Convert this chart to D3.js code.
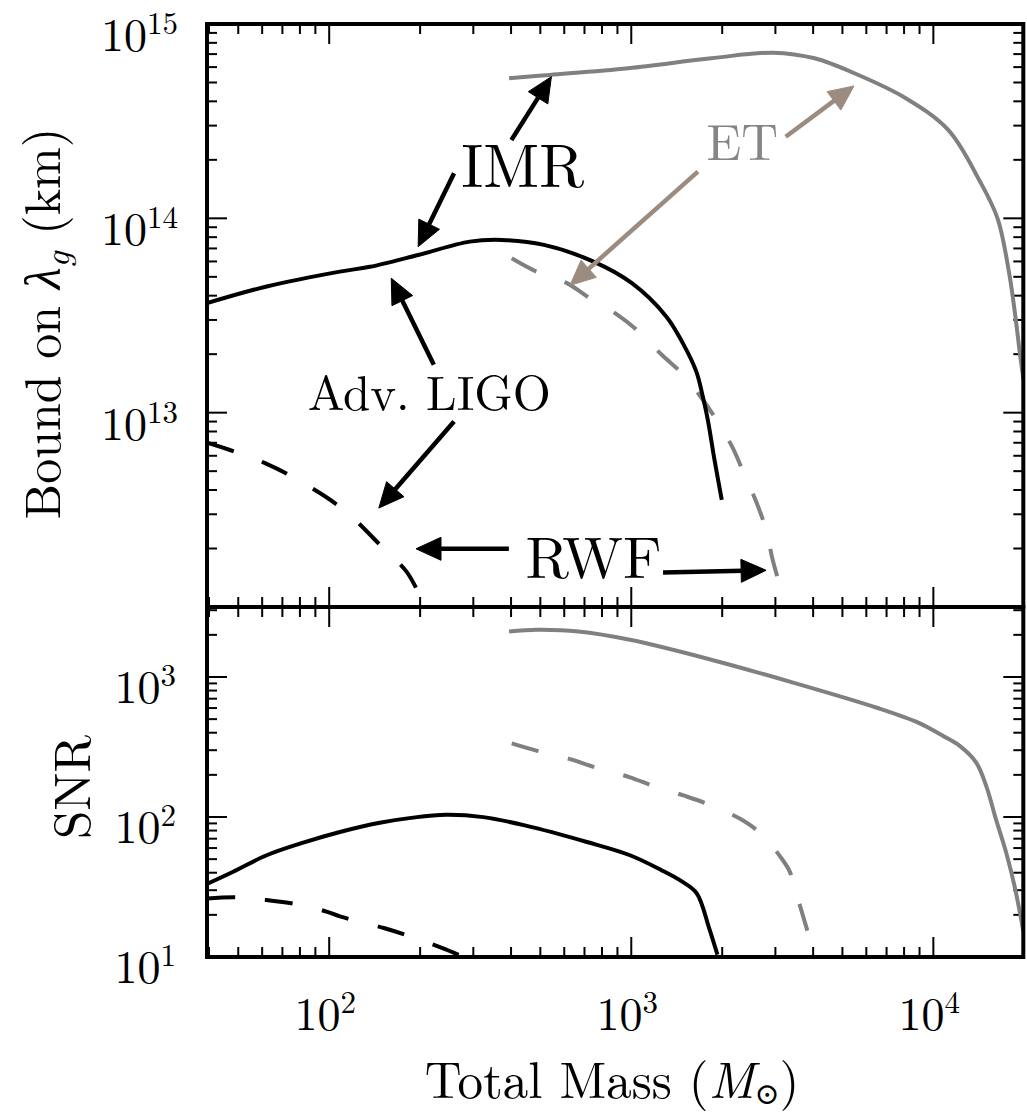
<!DOCTYPE html>
<html><head><meta charset="utf-8">
<script src="https://cdn.jsdelivr.net/npm/d3@7"></script>
<style>body{margin:0;background:#fff} svg{display:block}</style>
</head><body><svg id="chart" width="1027" height="1112"></svg>
<script>
// ---------- data ----------
const massDomain = [39.4, 19850];
const lambdaDomain = [1e12, 1e15];
const snrDomain = [10, 3162.3];

const xMajorTicks = [100, 1000, 10000];
const xTickLabels = ["2", "3", "4"];
const lambdaMajorTicks = [1e13, 1e14, 1e15];
const lambdaTickLabels = ["13", "14", "15"];
const snrMajorTicks = [10, 100, 1000];
const snrTickLabels = ["1", "2", "3"];

// Adv. LIGO, IMR (black solid) – bound on lambda_g
const ligoImrMass   = [39.4, 62.1, 108.5, 136.3, 197, 292, 373, 514, 750, 1005, 1307, 1481, 1641, 1725, 1792, 1886, 1993];
const ligoImrLambda = [3.66e13, 4.46e13, 5.32e13, 5.63e13, 6.48e13, 7.59e13, 7.74e13, 7.30e13, 5.99e13, 4.64e13, 3.12e13, 2.28e13, 1.63e13, 1.21e13, 9.18e12, 5.71e12, 3.56e12];
// Adv. LIGO, RWF (black dashed)
const ligoRwfMass   = [39.4, 48.5, 61.3, 75.2, 109.8, 151, 180.3, 201];
const ligoRwfLambda = [7.0e12, 6.31e12, 5.5e12, 4.69e12, 3.23e12, 2.01e12, 1.52e12, 1.12e12];
// ET, IMR (grey solid)
const etImrMass   = [394, 537, 977, 1839, 2951, 4045, 5548, 8105, 11200, 14180, 16310, 17820, 18750, 19340, 19850];
const etImrLambda = [5.26e14, 5.47e14, 5.92e14, 6.66e14, 7.12e14, 6.66e14, 5.53e14, 4.15e14, 2.85e14, 1.576e14, 1.0e14, 5.22e13, 3.0e13, 2.02e13, 1.50e13];
// ET, RWF (grey dashed)
const etRwfMass   = [402, 485, 612, 729, 891, 1065, 1264, 1467, 1702, 1922, 2163, 2370, 2590, 2794, 2938, 3134];
const etRwfLambda = [6.23e13, 5.32e13, 4.64e13, 3.88e13, 3.22e13, 2.59e13, 1.98e13, 1.60e13, 1.20e13, 9.08e12, 6.63e12, 4.79e12, 3.49e12, 2.50e12, 1.75e12, 1.23e12];

// SNR panel
const ligoImrSnrMass = [39.4, 48.1, 62.1, 80, 108.5, 147, 189.5, 243.8, 323.6, 444, 713, 990, 1259, 1475, 1647, 1810, 1928];
const ligoImrSnr     = [33.2, 40.6, 53.3, 64.5, 78.1, 90.9, 99.0, 103.7, 99.8, 87.1, 66.3, 53.3, 41.7, 34.5, 28.5, 16.1, 10.4];
const ligoRwfSnrMass = [39.4, 49.4, 62.1, 78, 98, 108.5, 151.6, 186, 236, 272.6];
const ligoRwfSnr     = [26.2, 26.7, 25.5, 23.8, 21.1, 19.5, 16.1, 14.0, 11.6, 10.2];
const etImrSnrMass = [394, 488, 669, 990, 1839, 3456, 6500, 8913, 10770, 12220, 13860, 14960, 16100, 17400, 18540, 19500, 19850];
const etImrSnr     = [2112, 2171, 2112, 1843, 1329, 908, 603, 472, 379, 322, 245, 167, 97, 56.3, 32.6, 18.9, 15.2];
const etRwfSnrMass = [402, 488, 628, 760, 990, 1181, 1497, 1839, 2293, 2686, 3146, 3350, 3456, 3681, 3924];
const etRwfSnr     = [336, 297, 259, 226, 192, 167, 142, 121, 97, 76, 50.5, 40.6, 32.6, 20.5, 12.9];

// annotations (data coordinates of the top panel)
const annotationTexts = [
  {text: "IMR", m: 437, v: 1.45e14, size: 61, color: "#000"},
  {text: "RWF", m: 750, v: 1.413e12, size: 59, color: "#000"},
  {text: "ET", m: 2332, v: 2.0e14, size: 51, color: "#858585"},
  {text: "Adv. LIGO", m: 214.5, v: 1.034e13, size: 49, color: "#000"}
];
const annotationArrows = [
  {from: [401, 2.53e14], to: [544, 5.36e14], color: "#000"},
  {from: [259, 1.706e14], to: [197, 7.15e13], color: "#000"},
  {from: [222, 1.762e13], to: [160.5, 4.92e13], color: "#000"},
  {from: [259, 9.0e12], to: [146, 3.23e12], color: "#000"},
  {from: [393.4, 1.993e12], to: [193.8, 1.993e12], color: "#000"},
  {from: [1274, 1.504e12], to: [2795, 1.545e12], color: "#000"},
  {from: [3245, 2.63e14], to: [5463, 4.80e14], color: "#9c8c80"},
  {from: [1662, 1.739e14], to: [627, 4.52e13], color: "#9c8c80"}
];

const FONT = "'Latin Modern Roman','Liberation Serif','DejaVu Serif',serif";

// ---------- layout ----------
const svg = d3.select("#chart");
const L = 207, R = 1023.3, T1 = 24, M = 607, B = 957;

const x = d3.scaleLog().domain(massDomain).range([L, R]);
const yTop = d3.scaleLog().domain(lambdaDomain).range([M, T1]);
const yBot = d3.scaleLog().domain(snrDomain).range([B, M]);

function minorTicks(domain, exps) {
  const out = [];
  exps.forEach(e => { for (let k = 2; k <= 9; k++) { const v = k * Math.pow(10, e); if (v > domain[0] * 1.001 && v < domain[1] / 1.001) out.push(v); } });
  return out;
}
const xMinor = minorTicks(massDomain, [1, 2, 3, 4]);
const lamMinor = minorTicks(lambdaDomain, [12, 13, 14]);
const snrMinor = minorTicks(snrDomain, [1, 2, 3]);

const defs = svg.append("defs");
defs.append("clipPath").attr("id", "clipTop").append("rect").attr("x", L).attr("y", T1).attr("width", R - L).attr("height", M - T1);
defs.append("clipPath").attr("id", "clipBot").append("rect").attr("x", L).attr("y", M).attr("width", R - L).attr("height", B - M);

function drawTicks(yScale, y0, y1, yMaj, yMin) {
  const g = svg.append("g").attr("stroke", "#000").attr("stroke-width", 2);
  const xt = xMajorTicks.filter(v => v > massDomain[0] && v < massDomain[1]).map(v => ({v, len: 20})).concat(xMinor.map(v => ({v, len: 10})));
  xt.forEach(t => {
    g.append("line").attr("x1", x(t.v)).attr("x2", x(t.v)).attr("y1", y0).attr("y2", y0 + t.len);
    g.append("line").attr("x1", x(t.v)).attr("x2", x(t.v)).attr("y1", y1).attr("y2", y1 - t.len);
  });
  const yt = yMaj.map(v => ({v, len: 20})).concat(yMin.map(v => ({v, len: 10})));
  yt.forEach(t => {
    g.append("line").attr("x1", L).attr("x2", L + t.len).attr("y1", yScale(t.v)).attr("y2", yScale(t.v));
    g.append("line").attr("x1", R).attr("x2", R - t.len).attr("y1", yScale(t.v)).attr("y2", yScale(t.v));
  });
}
drawTicks(yTop, T1, M, lambdaMajorTicks, lamMinor);
drawTicks(yBot, M, B, snrMajorTicks, snrMinor);

// ---------- curves ----------
function curve(clip, xs, ys, yScale, color, dashed) {
  const pts = xs.map((m, i) => [m, ys[i]]);
  const line = d3.line().x(d => x(d[0])).y(d => yScale(d[1])).curve(d3.curveCatmullRom.alpha(0.5));
  svg.append("path").attr("clip-path", `url(#${clip})`).attr("d", line(pts))
    .attr("fill", "none").attr("stroke", color).attr("stroke-width", 4)
    .attr("stroke-dasharray", dashed ? "28,30" : null);
}
curve("clipTop", etImrMass, etImrLambda, yTop, "#808080", false);
curve("clipTop", etRwfMass, etRwfLambda, yTop, "#808080", true);
curve("clipTop", ligoImrMass, ligoImrLambda, yTop, "#000", false);
curve("clipTop", ligoRwfMass, ligoRwfLambda, yTop, "#000", true);
curve("clipBot", etImrSnrMass, etImrSnr, yBot, "#808080", false);
curve("clipBot", etRwfSnrMass, etRwfSnr, yBot, "#808080", true);
curve("clipBot", ligoImrSnrMass, ligoImrSnr, yBot, "#000", false);
curve("clipBot", ligoRwfSnrMass, ligoRwfSnr, yBot, "#000", true);

// ---------- spines ----------
svg.append("rect").attr("x", L).attr("y", T1).attr("width", R - L).attr("height", M - T1).attr("fill", "none").attr("stroke", "#000").attr("stroke-width", 4);
svg.append("rect").attr("x", L).attr("y", M).attr("width", R - L).attr("height", B - M).attr("fill", "none").attr("stroke", "#000").attr("stroke-width", 4);

// ---------- tick labels ----------
function powLabel(xp, yp, exp, anchor) {
  const t = svg.append("text").attr("x", xp).attr("y", yp).attr("text-anchor", anchor)
    .style("font-family", FONT).attr("font-size", 46).attr("fill", "#000");
  t.append("tspan").text("10");
  t.append("tspan").attr("dy", -17).attr("font-size", 31).text(exp);
}
lambdaMajorTicks.forEach((v, i) => powLabel(178, yTop(v) + 27, lambdaTickLabels[i], "end"));
snrMajorTicks.forEach((v, i) => powLabel(176, yBot(v) + 26, snrTickLabels[i], "end"));
xMajorTicks.forEach((v, i) => powLabel(x(v) - 4, B + 73, xTickLabels[i], "middle"));

// ---------- axis labels ----------
const ylab = svg.append("text").attr("transform", `translate(60,${(T1 + M) / 2 + 8}) rotate(-90)`)
  .attr("text-anchor", "middle").style("font-family", FONT).attr("font-size", 50);
ylab.append("tspan").text("Bound on ");
ylab.append("tspan").attr("font-style", "italic").text("λ");
ylab.append("tspan").attr("font-style", "italic").attr("font-size", 35).attr("dy", 9).text("g");
ylab.append("tspan").attr("dy", -9).text(" (km)");

svg.append("text").attr("transform", `translate(90,${(M + B) / 2 + 5}) rotate(-90)`)
  .attr("text-anchor", "middle").style("font-family", FONT).attr("font-size", 51).text("SNR");

const xlab = svg.append("text").attr("x", (L + R) / 2 - 3).attr("y", 1098)
  .attr("text-anchor", "middle").style("font-family", FONT).attr("font-size", 51);
xlab.append("tspan").text("Total Mass (");
xlab.append("tspan").attr("font-style", "italic").text("M");
xlab.append("tspan").attr("font-size", 30).attr("dy", 6).text("⊙");
xlab.append("tspan").attr("dy", -6).text(")");

// ---------- annotations ----------
function arrow(a) {
  const x0 = x(a.from[0]), y0 = yTop(a.from[1]), x1 = x(a.to[0]), y1 = yTop(a.to[1]);
  const dx = x1 - x0, dy = y1 - y0, len = Math.hypot(dx, dy), ux = dx / len, uy = dy / len;
  const hl = 25, hw = 11.5;
  const bx = x1 - ux * hl, by = y1 - uy * hl;
  svg.append("line").attr("x1", x0).attr("y1", y0).attr("x2", bx + ux * 2).attr("y2", by + uy * 2)
    .attr("stroke", a.color).attr("stroke-width", 4.5);
  svg.append("polygon").attr("points", [[x1, y1], [bx - uy * hw, by + ux * hw], [bx + uy * hw, by - ux * hw]].map(p => p.join(",")).join(" "))
    .attr("fill", a.color).attr("stroke", a.color).attr("stroke-width", 1).attr("stroke-linejoin", "miter");
}
annotationArrows.forEach(arrow);
annotationTexts.forEach(a => {
  svg.append("text").attr("x", x(a.m)).attr("y", yTop(a.v)).attr("text-anchor", "middle")
    .style("font-family", FONT).attr("font-size", a.size).attr("fill", a.color).text(a.text);
});
</script></body></html>
